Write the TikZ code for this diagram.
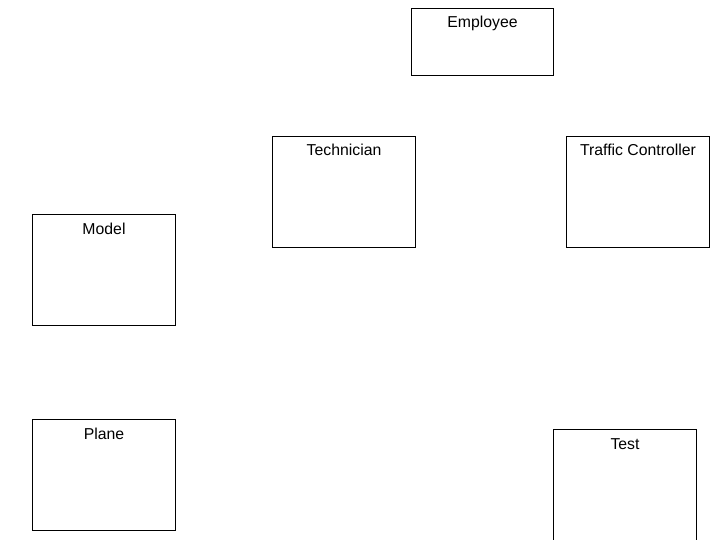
\documentclass[tikz,border=0pt]{standalone}
\usepackage{fontspec}
\setmainfont{Liberation Sans}
\begin{document}
\begin{tikzpicture}[x=1pt,y=-1pt,
  box/.style={draw=black,line width=1pt,rectangle,anchor=north west,inner sep=0pt,minimum width=143pt,minimum height=111pt},
  title/.style={anchor=base,font=\fontsize{15.8}{18}\selectfont,inner sep=0pt}]
\useasboundingbox (0,0) rectangle (720,540);
\clip (0,0) rectangle (720,540);
\node[box,minimum width=142pt,minimum height=67pt] (emp) at (411,8) {};
\node[title] (empt) at ([yshift=-20pt]emp.north) {Employee};
\node[box] (tech) at (272,136) {};
\node[title] (techt) at ([yshift=-20pt]tech.north) {Technician};
\node[box] (traf) at (566,136) {};
\node[title] (traft) at ([yshift=-20pt]traf.north) {Traffic Controller};
\node[box] (model) at (32,214) {};
\node[title] (modelt) at ([yshift=-20pt]model.north) {Model};
\node[box] (plane) at (32,419) {};
\node[title] (planet) at ([yshift=-20pt]plane.north) {Plane};
\node[box,minimum height=120pt] (test) at (553,429) {};
\node[title] (testt) at ([yshift=-20pt]test.north) {Test};
\end{tikzpicture}
\end{document}
